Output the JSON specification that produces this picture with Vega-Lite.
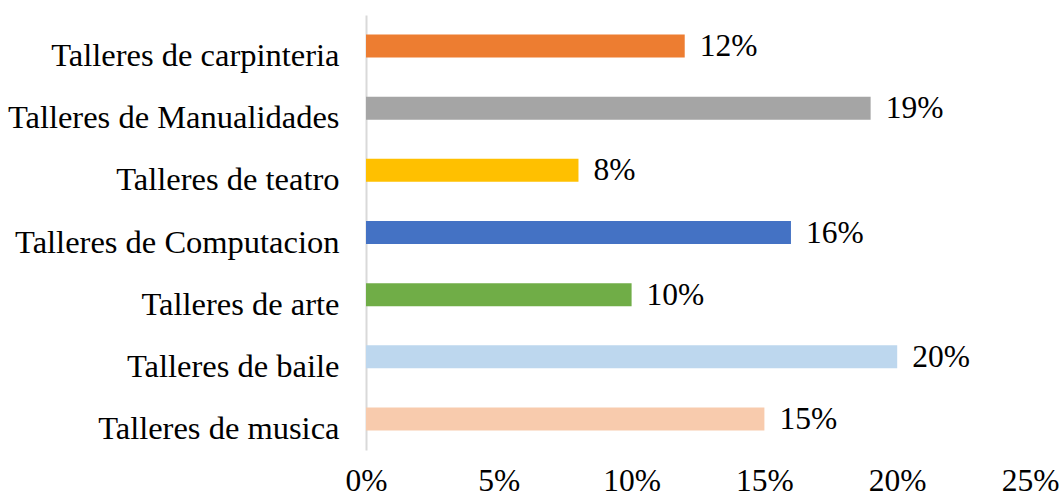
{
  "$schema": "https://vega.github.io/schema/vega-lite/v6.json",
  "autosize": {"type": "none"},
  "padding": {"left": 366, "top": 15, "right": 29, "bottom": 49},
  "width": 664,
  "height": 435,
  "background": "white",
  "config": {"view": {"stroke": null}, "font": "Liberation Serif"},
  "data": {"values": [
    {"taller": "Talleres de carpinteria", "valor": 0.12},
    {"taller": "Talleres de Manualidades", "valor": 0.19},
    {"taller": "Talleres de teatro", "valor": 0.08},
    {"taller": "Talleres de Computacion", "valor": 0.16},
    {"taller": "Talleres de arte", "valor": 0.10},
    {"taller": "Talleres de baile", "valor": 0.20},
    {"taller": "Talleres de musica", "valor": 0.15}
  ]},
  "encoding": {
    "y": {"field": "taller", "type": "nominal", "sort": null,
      "scale": {"paddingInner": 0.63, "paddingOuter": 0.315},
      "axis": {"title": null, "ticks": false, "domainColor": "#D9D9D9", "domainWidth": 2,
        "labelFont": "Liberation Serif", "labelFontSize": 32.5, "labelColor": "black", "labelPadding": 27, "labelLimit": 400, "labelOffset": 10}},
    "x": {"field": "valor", "type": "quantitative",
      "scale": {"domain": [0, 0.25], "nice": false},
      "axis": {"title": null, "format": ".0%", "values": [0, 0.05, 0.1, 0.15, 0.2, 0.25], "grid": false, "domain": false, "ticks": false,
        "labelFont": "Liberation Serif", "labelFontSize": 31.5, "labelColor": "black", "labelPadding": 15, "labelFlush": false}}
  },
  "layer": [
    {"mark": {"type": "bar"},
     "encoding": {"color": {"field": "taller", "type": "nominal", "legend": null,
       "scale": {"domain": ["Talleres de carpinteria", "Talleres de Manualidades", "Talleres de teatro", "Talleres de Computacion", "Talleres de arte", "Talleres de baile", "Talleres de musica"],
                 "range": ["#ED7D31", "#A5A5A5", "#FFC000", "#4472C4", "#70AD47", "#BDD7EE", "#F8CBAD"]}}}},
    {"mark": {"type": "text", "align": "left", "baseline": "middle", "dx": 15, "dy": 1, "font": "Liberation Serif", "fontSize": 31.5, "color": "black"},
     "encoding": {"text": {"field": "valor", "type": "quantitative", "format": ".0%"}}}
  ]
}
